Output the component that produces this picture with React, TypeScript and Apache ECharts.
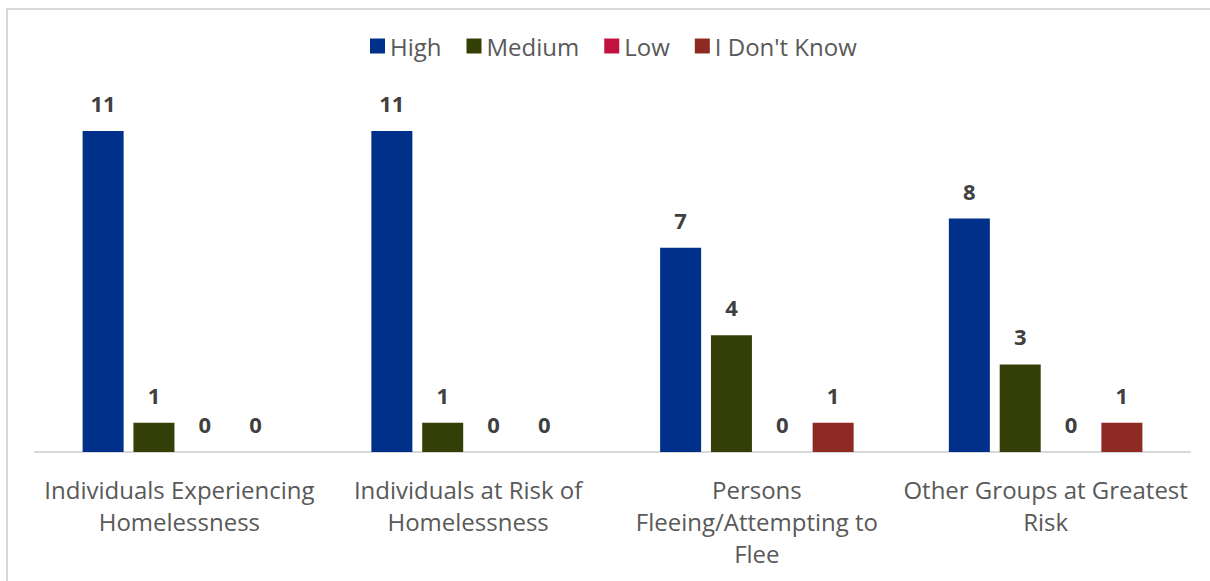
import React, { useEffect, useRef } from "react";
import * as echarts from "echarts";

const categories = [
  "Individuals Experiencing\nHomelessness",
  "Individuals at Risk of\nHomelessness",
  "Persons\nFleeing/Attempting to\nFlee",
  "Other Groups at Greatest\nRisk",
];
const seriesNames = ["High", "Medium", "Low", "I Don't Know"];
const high = [11, 11, 7, 8];
const medium = [1, 1, 4, 3];
const low = [0, 0, 0, 0];
const dontKnow = [0, 0, 1, 1];
const colors = ["#00308A", "#343F08", "#C2123F", "#8E2A24"];

export default function App() {
  const ref = useRef<HTMLDivElement>(null);
  useEffect(() => {
    if (!ref.current) return;
    const chart = echarts.init(ref.current, null, { renderer: "svg" });
    const data = [high, medium, low, dontKnow];
    chart.setOption({
      animation: false,
      textStyle: { fontFamily: "Open Sans" },
      graphic: [
        {
          type: "rect",
          shape: { x: 7, y: 9, width: 1300, height: 700 },
          style: { fill: "none", stroke: "#d9d9d9", lineWidth: 2 },
          silent: true,
        },
      ],
      legend: {
        top: 29,
        left: 365,
        itemWidth: 15,
        itemHeight: 15,
        itemGap: 25,
        icon: "rect",
        textStyle: { fontSize: 24, color: "#595959", fontFamily: "Open Sans" },
        data: seriesNames,
      },
      grid: { left: 35, right: 20, top: 131, bottom: 129, containLabel: false },
      xAxis: {
        type: "category",
        data: categories,
        axisLine: { show: true, lineStyle: { color: "#d9d9d9", width: 2 } },
        axisTick: { show: false },
        axisLabel: {
          interval: 0,
          fontSize: 24,
          color: "#595959",
          lineHeight: 32,
          margin: 21,
          fontFamily: "Open Sans",
        },
      },
      yAxis: {
        type: "value",
        min: 0,
        max: 11,
        show: false,
        splitLine: { show: false },
      },
      series: seriesNames.map((name, i) => ({
        name,
        type: "bar",
        data: data[i],
        barWidth: 41,
        barGap: "24%",
        itemStyle: { color: colors[i] },
        label: {
          show: true,
          position: "top",
          distance: 17,
          fontSize: 22,
          fontWeight: "bold",
          color: "#404040",
          fontFamily: "Open Sans",
        },
      })),
    });
    return () => chart.dispose();
  }, []);
  return (
    <div
      ref={ref}
      style={{ position: "absolute", left: 0, top: 0, width: 1210, height: 581 }}
    />
  );
}
